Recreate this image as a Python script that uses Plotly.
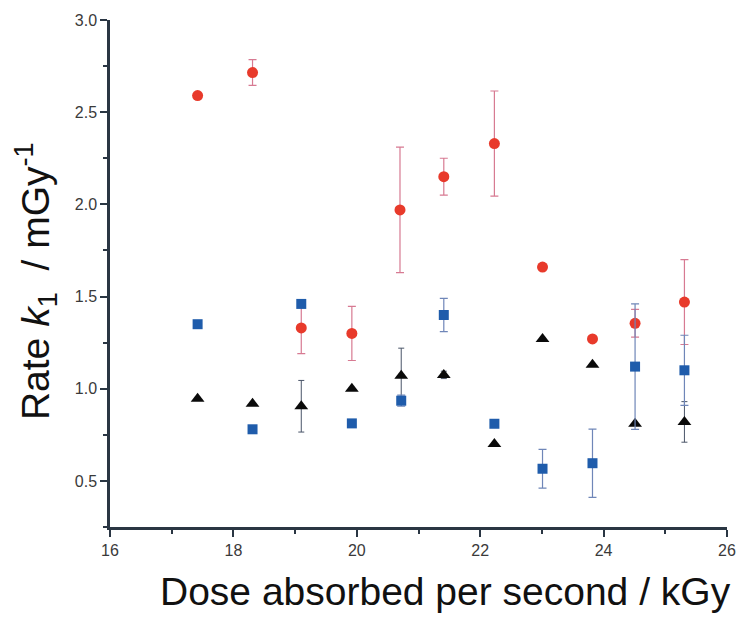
import plotly.graph_objects as go

# Dose absorbed per second (kGy)
dose_red = [17.42, 18.31, 19.10, 19.92, 20.70, 21.41, 22.23, 23.01, 23.82, 24.51, 25.31]
rate_red = [2.59, 2.715, 1.33, 1.30, 1.97, 2.15, 2.33, 1.66, 1.27, 1.355, 1.47]
err_red = [0.0, 0.07, 0.14, 0.147, 0.34, 0.10, 0.285, 0.0, 0.0, 0.075, 0.23]

dose_blue = [17.42, 18.31, 19.10, 19.92, 20.72, 21.41, 22.23, 23.01, 23.82, 24.51, 25.31]
rate_blue = [1.35, 0.78, 1.46, 0.812, 0.935, 1.40, 0.81, 0.566, 0.596, 1.12, 1.10]
err_blue = [0.0, 0.0, 0.0, 0.0, 0.03, 0.09, 0.0, 0.105, 0.185, 0.34, 0.19]

dose_black = [17.42, 18.31, 19.10, 19.92, 20.72, 21.41, 22.23, 23.01, 23.82, 24.51, 25.31]
rate_black = [0.945, 0.918, 0.905, 1.0, 1.07, 1.075, 0.70, 1.27, 1.13, 0.81, 0.82]
err_black = [0.0, 0.0, 0.14, 0.0, 0.15, 0.02, 0.0, 0.0, 0.0, 0.0, 0.11]

x_ticks = [16, 18, 20, 22, 24, 26]
y_ticks = [0.5, 1.0, 1.5, 2.0, 2.5, 3.0]

fig = go.Figure()

fig.add_trace(go.Scatter(
    x=dose_black, y=rate_black, mode="markers",
    marker=dict(symbol="triangle-up", size=12, color="#0a0a0a"),
    error_y=dict(type="data", array=err_black, color="#4a5568", thickness=1, width=3),
    showlegend=False,
))
fig.add_trace(go.Scatter(
    x=dose_red, y=rate_red, mode="markers",
    marker=dict(symbol="circle", size=11, color="#e83a2b"),
    error_y=dict(type="data", array=err_red, color="#d77a92", thickness=1.2, width=4),
    showlegend=False,
))
fig.add_trace(go.Scatter(
    x=dose_blue, y=rate_blue, mode="markers",
    marker=dict(symbol="square", size=10, color="#1f5cab"),
    error_y=dict(type="data", array=err_blue, color="#6f86b8", thickness=1.2, width=4),
    showlegend=False,
))

axis_color = "#2a3643"
tick_font = dict(family="Liberation Sans, Arial, sans-serif", size=16, color="#3a3a3a")

fig.update_xaxes(
    range=[16, 26], tickvals=x_ticks, ticktext=[str(v) for v in x_ticks],
    showline=True, linecolor=axis_color, linewidth=2.5,
    ticks="outside", ticklen=7, tickwidth=2, tickcolor=axis_color,
    minor=dict(dtick=1, tick0=16, ticks="outside", ticklen=4, tickwidth=1.5, tickcolor=axis_color),
    showgrid=False, zeroline=False, tickfont=tick_font,
)
fig.update_yaxes(
    range=[0.25, 3.0], tickvals=y_ticks, ticktext=["%.1f" % v for v in y_ticks],
    showline=True, linecolor=axis_color, linewidth=2.5,
    ticks="outside", ticklen=7, tickwidth=2, tickcolor=axis_color,
    minor=dict(dtick=0.5, tick0=0.25, ticks="outside", ticklen=4, tickwidth=1.5, tickcolor=axis_color),
    showgrid=False, zeroline=False, tickfont=tick_font,
)

label_font = dict(family="Liberation Sans, Arial, sans-serif", size=39, color="#111111")
fig.add_annotation(
    text="Dose absorbed per second / kGy", xref="paper", yref="paper",
    x=0.544, y=-0.128, xanchor="center", yanchor="middle", showarrow=False, font=label_font,
)
fig.add_annotation(
    text="Rate <i>k</i><sub>1</sub>&nbsp; / mGy<sup>-1</sup>", xref="paper", yref="paper",
    x=-0.12, y=0.485, xanchor="center", yanchor="middle", textangle=-90,
    showarrow=False, font=label_font,
)

fig.update_layout(
    width=748, height=619,
    margin=dict(l=110, r=13, t=18, b=92),
    paper_bgcolor="white", plot_bgcolor="white",
)

fig.write_html("out.html")
